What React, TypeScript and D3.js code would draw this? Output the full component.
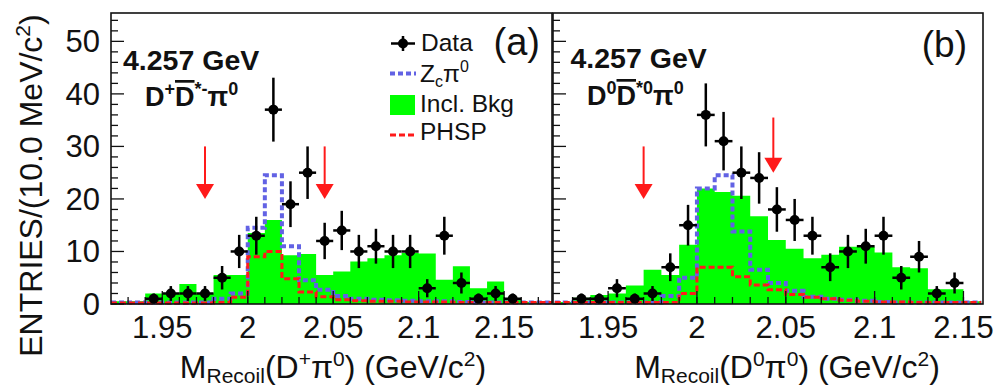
import * as d3 from "d3";

// bin lower edges (10 MeV bins) and contents
const binEdgesA = [1.92, 1.93, 1.94, 1.95, 1.96, 1.97, 1.98, 1.99, 2.0, 2.01, 2.02, 2.03, 2.04, 2.05, 2.06, 2.07, 2.08, 2.09, 2.1, 2.11, 2.12, 2.13, 2.14, 2.15, 2.16, 2.17];
const dataA = [0, 0, 1, 2, 2, 2, 5, 10, 13, 37, 19, 25, 12, 14, 10, 11, 10, 10, 3, 13, 4, 1, 2, 1, 0, 0];
const bkgA = [0.5, 0.5, 2, 2, 3.8, 2, 5.5, 5.5, 13.5, 16, 9.3, 9.5, 5.5, 6.2, 8.1, 8.7, 9.3, 9.7, 9.6, 4.6, 7.2, 3, 4.3, 1.1, 0.4, 0.4];
const zcA = [0.3, 0.3, 0.3, 0.3, 0.3, 0.3, 1, 2, 14.5, 24.5, 11, 4.5, 2.7, 1.5, 1, 0.8, 0.7, 0.6, 0.5, 0.5, 0.4, 0.3, 0.3, 0.3, 0.3, 0.3];
const phspA = [0.2, 0.2, 0.2, 0.2, 0.2, 0.2, 0.3, 1.3, 9, 10, 4.8, 2.3, 1.4, 0.8, 0.6, 0.5, 0.5, 0.4, 0.4, 0.4, 0.3, 0.3, 0.3, 0.3, 0.3, 0.3];

const binEdgesB = [1.92, 1.93, 1.94, 1.95, 1.96, 1.97, 1.98, 1.99, 2.0, 2.01, 2.02, 2.03, 2.04, 2.05, 2.06, 2.07, 2.08, 2.09, 2.1, 2.11, 2.12, 2.13, 2.14, 2.15];
const dataB = [0, 1, 1, 3, 1, 2, 7, 15, 36, 31, 25, 24, 18, 16, 13, 7, 10, 11, 13, 5, 9, 2, 4, 0];
const bkgB = [0.4, 1.2, 1.7, 2, 3.5, 6.5, 5.5, 11.3, 22, 21.3, 20.6, 16.7, 12.2, 10.5, 8.7, 9.4, 10.9, 10.9, 9.8, 7, 6.8, 2.8, 2.8, 0.5];
const zcB = [0.3, 0.3, 0.3, 0.3, 0.3, 0.3, 1.5, 5, 22, 24.5, 13.8, 6.5, 4, 2.5, 1.4, 1, 0.8, 0.6, 0.4, 0.3, 0.3, 0.3, 0.3, 0.3];
const phspB = [0.3, 0.3, 0.3, 0.3, 0.3, 0.3, 0.3, 2, 7, 7, 5.2, 3.6, 2.7, 1.8, 1.3, 1, 0.7, 0.5, 0.4, 0.4, 0.3, 0.3, 0.3, 0.3];

// signal-region cut arrows: x position, arrow top, arrow tip (entries)
const arrowsA = [
    { at: 1.975, from: 30, to: 20 },
    { at: 2.045, from: 30, to: 20 },
];
const arrowsB = [
    { at: 1.97, from: 30, to: 20 },
    { at: 2.043, from: 35.5, to: 25 },
];

const yTickLabels = [0, 10, 20, 30, 40, 50];
const xTickLabels = [1.95, 2, 2.05, 2.1, 2.15];

const BIN = 0.01;
const FONT = "'Liberation Sans', Arial, Helvetica, sans-serif";
const GREEN = "#00ff00";
const BLUE = "#6262e4";
const RED = "#ff1a1a";
const INK = "#111";

const yTop = 13;
const yBottom = 304;
const y = d3.scaleLinear().domain([0, 55.4]).range([yBottom, yTop]);

type Pt = [number, number];

function stepPoints(edges: number[], vals: number[]): Pt[] {
    const pts: Pt[] = edges.map((e, i) => [e, vals[i]] as Pt);
    pts.push([edges[edges.length - 1] + BIN, vals[vals.length - 1]]);
    return pts;
}

type PanelProps = {
    id: string;
    left: number;
    right: number;
    domain: [number, number];
    edges: number[];
    data: number[];
    bkg: number[];
    zc: number[];
    phsp: number[];
    arrows: { at: number; from: number; to: number }[];
};

function Panel({ id, left, right, domain, edges, data, bkg, zc, phsp, arrows }: PanelProps) {
    const x = d3.scaleLinear().domain(domain).range([left, right]);

    const area = d3
        .area<Pt>()
        .x((d) => x(d[0]))
        .y0(y(0))
        .y1((d) => y(d[1]))
        .curve(d3.curveStepAfter);
    const line = d3
        .line<Pt>()
        .x((d) => x(d[0]))
        .y((d) => y(d[1]))
        .curve(d3.curveStepAfter);

    const minorY = d3.range(0, 56, 2);
    const minorX = edges.filter((e) => x(e) > left + 2 && x(e) < right - 2);

    return (
        <g>
            <defs>
                <clipPath id={`clip-${id}`}>
                    <rect x={left} y={yTop} width={right - left} height={yBottom - yTop + 3} />
                </clipPath>
            </defs>
            <g clipPath={`url(#clip-${id})`}>
                <path d={area(stepPoints(edges, bkg)) ?? ""} fill={GREEN} />
                <path
                    d={line(stepPoints(edges, zc)) ?? ""}
                    fill="none"
                    stroke={BLUE}
                    strokeWidth={4}
                    strokeDasharray="5 3"
                />
                <path
                    d={line(stepPoints(edges, phsp)) ?? ""}
                    fill="none"
                    stroke={RED}
                    strokeWidth={3}
                    strokeDasharray="6 3"
                />
            </g>

            {/* axis ticks */}
            {minorY.map((v) => (
                <line
                    key={`yt${v}`}
                    x1={left}
                    x2={left + (v % 10 === 0 ? 13 : 7)}
                    y1={y(v)}
                    y2={y(v)}
                    stroke={INK}
                    strokeWidth={1.3}
                />
            ))}
            {minorX.map((e) => (
                <line
                    key={`xt${e}`}
                    x1={x(e)}
                    x2={x(e)}
                    y1={yBottom}
                    y2={yBottom - 7}
                    stroke={INK}
                    strokeWidth={1.3}
                />
            ))}
            {xTickLabels.map((t) => (
                <g key={`xl${t}`}>
                    <line x1={x(t)} x2={x(t)} y1={yBottom} y2={yBottom - 13} stroke={INK} strokeWidth={1.3} />
                    <text
                        x={x(t)}
                        y={338}
                        textAnchor="middle"
                        fontSize={31}
                        fontFamily={FONT}
                        fill={INK}
                    >
                        {t}
                    </text>
                </g>
            ))}

            {/* data points with Poisson errors */}
            {data.map((n, i) => {
                if (n <= 0) return null;
                const c = edges[i] + BIN / 2;
                const err = Math.sqrt(n);
                return (
                    <g key={`d${i}`}>
                        <line x1={x(c)} x2={x(c)} y1={y(n - err)} y2={y(n + err)} stroke="#000" strokeWidth={2.5} />
                        <line x1={x(c - BIN / 2)} x2={x(c + BIN / 2)} y1={y(n)} y2={y(n)} stroke="#000" strokeWidth={2.5} />
                        <circle cx={x(c)} cy={y(n)} r={5} fill="#000" />
                    </g>
                );
            })}

            {arrows.map((a, i) => (
                <g key={`ar${i}`}>
                    <line x1={x(a.at)} x2={x(a.at)} y1={y(a.from)} y2={y(a.to) - 12} stroke={RED} strokeWidth={2} />
                    <path
                        d={`M${x(a.at) - 9},${y(a.to) - 15} L${x(a.at) + 9},${y(a.to) - 15} L${x(a.at)},${y(a.to)} Z`}
                        fill={RED}
                    />
                </g>
            ))}

            <rect
                x={left}
                y={yTop}
                width={right - left}
                height={yBottom - yTop}
                fill="none"
                stroke={INK}
                strokeWidth={1.6}
            />
        </g>
    );
}

export default function App() {
    return (
        <svg
            width={1000}
            height={389}
            style={{ position: "absolute", left: 0, top: 0, background: "#fff" }}
            fontFamily={FONT}
        >
            <rect width={1000} height={389} fill="#fff" />
            <Panel
                id="a"
                left={111}
                right={552}
                domain={[1.92, 2.178]}
                edges={binEdgesA}
                data={dataA}
                bkg={bkgA}
                zc={zcA}
                phsp={phspA}
                arrows={arrowsA}
            />
            <Panel
                id="b"
                left={553}
                right={983}
                domain={[1.919, 2.161]}
                edges={binEdgesB}
                data={dataB}
                bkg={bkgB}
                zc={zcB}
                phsp={phspB}
                arrows={arrowsB}
            />

            {/* y axis labels */}
            {yTickLabels.map((t) => (
                <text
                    key={`yl${t}`}
                    x={100}
                    y={y(t) + 11}
                    textAnchor="end"
                    fontSize={31}
                    fill={INK}
                >
                    {t}
                </text>
            ))}
            <text
                transform="translate(42,185.5) rotate(-90)"
                textAnchor="middle"
                fontSize={32}
                fill={INK}
            >
                ENTRIES/(10.0 MeV/c
                <tspan fontSize={21} dy={-12}>2</tspan>
                <tspan dy={12}>)</tspan>
            </text>

            {/* x axis titles */}
            <text x={333} y={378} textAnchor="middle" fontSize={32} fill={INK}>
                M<tspan fontSize={21} dy={4.5}>Recoil</tspan>
                <tspan dy={-4.5}>(D</tspan>
                <tspan fontSize={21} dy={-12}>+</tspan>
                <tspan dy={12}>π</tspan>
                <tspan fontSize={21} dy={-12}>0</tspan>
                <tspan dy={12}>) (GeV/c</tspan>
                <tspan fontSize={21} dy={-12}>2</tspan>
                <tspan dy={12}>)</tspan>
            </text>
            <text x={787} y={378} textAnchor="middle" fontSize={32} fill={INK}>
                M<tspan fontSize={21} dy={4.5}>Recoil</tspan>
                <tspan dy={-4.5}>(D</tspan>
                <tspan fontSize={21} dy={-12}>0</tspan>
                <tspan dy={12}>π</tspan>
                <tspan fontSize={21} dy={-12}>0</tspan>
                <tspan dy={12}>) (GeV/c</tspan>
                <tspan fontSize={21} dy={-12}>2</tspan>
                <tspan dy={12}>)</tspan>
            </text>

            {/* panel annotations */}
            <text x={123} y={70} fontSize={28.5} fontWeight="bold" fill={INK}>4.257 GeV</text>
            <text x={145} y={106} fontSize={27} fontWeight="bold" fill={INK}>
                D<tspan fontSize={18} dy={-11}>+</tspan>
                <tspan dy={11} textDecoration="overline">D</tspan>
                <tspan fontSize={18} dy={-11}>*-</tspan>
                <tspan dy={11}>π</tspan>
                <tspan fontSize={18} dy={-11}>0</tspan>
            </text>
            <text x={570.5} y={68} fontSize={28.5} fontWeight="bold" fill={INK}>4.257 GeV</text>
            <text x={587} y={105} fontSize={27} fontWeight="bold" fill={INK}>
                D<tspan fontSize={18} dy={-11}>0</tspan>
                <tspan dy={11} textDecoration="overline">D</tspan>
                <tspan fontSize={18} dy={-11}>*0</tspan>
                <tspan dy={11}>π</tspan>
                <tspan fontSize={18} dy={-11}>0</tspan>
            </text>
            <text x={540} y={55} textAnchor="end" fontSize={38} fill={INK}>(a)</text>
            <text x={967} y={57} textAnchor="end" fontSize={37} fill={INK}>(b)</text>

            {/* legend */}
            <g>
                <line x1={391} x2={415} y1={43.5} y2={43.5} stroke="#000" strokeWidth={2.5} />
                <line x1={403} x2={403} y1={36} y2={51} stroke="#000" strokeWidth={2.5} />
                <circle cx={403} cy={43.5} r={5} fill="#000" />
                <text x={421} y={50.5} fontSize={24.5} fill={INK}>Data</text>

                <line x1={390} x2={416} y1={73.5} y2={73.5} stroke={BLUE} strokeWidth={4} strokeDasharray="5 3" />
                <text x={420} y={81.5} fontSize={24.5} fill={INK}>
                    Z<tspan fontSize={16} dy={5}>c</tspan>
                    <tspan dy={-5}>π</tspan>
                    <tspan fontSize={16} dy={-10}>0</tspan>
                </text>

                <rect x={390} y={95} width={25} height={20} fill={GREEN} />
                <text x={420} y={111.5} fontSize={24.5} fill={INK}>Incl. Bkg</text>

                <line x1={390} x2={416} y1={135} y2={135} stroke={RED} strokeWidth={3} strokeDasharray="6 3" />
                <text x={420} y={140} fontSize={24.5} fill={INK}>PHSP</text>
            </g>
        </svg>
    );
}
